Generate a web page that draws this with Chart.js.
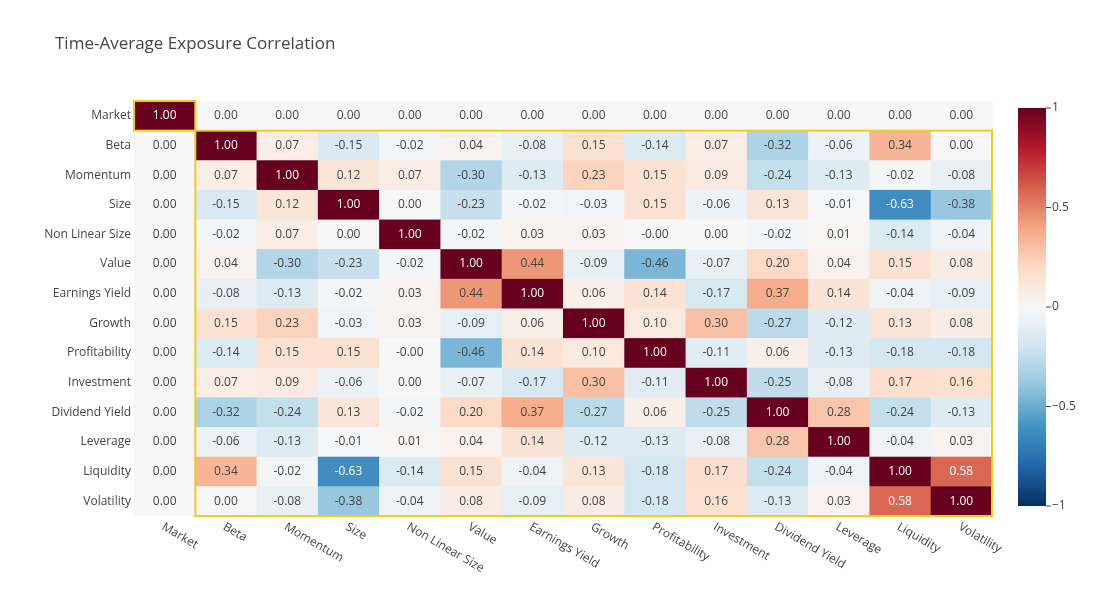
<!DOCTYPE html>
<html>
<head>
<meta charset="utf-8">
<script src="https://cdn.jsdelivr.net/npm/chart.js@4/dist/chart.umd.min.js"></script>
<style>
  html, body { margin: 0; padding: 0; background: #fff; }
  #wrap { width: 1100px; height: 616px; position: relative; }
</style>
</head>
<body>
<div id="wrap"><canvas id="c"></canvas></div>
<script>
const factors = ['Market', 'Beta', 'Momentum', 'Size', 'Non Linear Size', 'Value', 'Earnings Yield',
  'Growth', 'Profitability', 'Investment', 'Dividend Yield', 'Leverage', 'Liquidity', 'Volatility'];

// one row per factor, columns in the same order as factors
const rowMarket   = [1, 0, 0, 0, 0, 0, 0, 0, 0, 0, 0, 0, 0, 0];
const rowBeta     = [0, 1, 0.07, -0.15, -0.02, 0.04, -0.08, 0.15, -0.14, 0.07, -0.32, -0.06, 0.34, 0.00];
const rowMomentum = [0, 0.07, 1, 0.12, 0.07, -0.30, -0.13, 0.23, 0.15, 0.09, -0.24, -0.13, -0.02, -0.08];
const rowSize     = [0, -0.15, 0.12, 1, 0.00, -0.23, -0.02, -0.03, 0.15, -0.06, 0.13, -0.01, -0.63, -0.38];
const rowNLS      = [0, -0.02, 0.07, 0.00, 1, -0.02, 0.03, 0.03, -0.001, 0.00, -0.02, 0.01, -0.14, -0.04];
const rowValue    = [0, 0.04, -0.30, -0.23, -0.02, 1, 0.44, -0.09, -0.46, -0.07, 0.20, 0.04, 0.15, 0.08];
const rowEY       = [0, -0.08, -0.13, -0.02, 0.03, 0.44, 1, 0.06, 0.14, -0.17, 0.37, 0.14, -0.04, -0.09];
const rowGrowth   = [0, 0.15, 0.23, -0.03, 0.03, -0.09, 0.06, 1, 0.10, 0.30, -0.27, -0.12, 0.13, 0.08];
const rowProfit   = [0, -0.14, 0.15, 0.15, -0.001, -0.46, 0.14, 0.10, 1, -0.11, 0.06, -0.13, -0.18, -0.18];
const rowInvest   = [0, 0.07, 0.09, -0.06, 0.00, -0.07, -0.17, 0.30, -0.11, 1, -0.25, -0.08, 0.17, 0.16];
const rowDivYield = [0, -0.32, -0.24, 0.13, -0.02, 0.20, 0.37, -0.27, 0.06, -0.25, 1, 0.28, -0.24, -0.13];
const rowLeverage = [0, -0.06, -0.13, -0.01, 0.01, 0.04, 0.14, -0.12, -0.13, -0.08, 0.28, 1, -0.04, 0.03];
const rowLiquid   = [0, 0.34, -0.02, -0.63, -0.14, 0.15, -0.04, 0.13, -0.18, 0.17, -0.24, -0.04, 1, 0.58];
const rowVol      = [0, 0.00, -0.08, -0.38, -0.04, 0.08, -0.09, 0.08, -0.18, 0.16, -0.13, 0.03, 0.58, 1];
const matrix = [rowMarket, rowBeta, rowMomentum, rowSize, rowNLS, rowValue, rowEY, rowGrowth,
  rowProfit, rowInvest, rowDivYield, rowLeverage, rowLiquid, rowVol];
const barTicks = [1, 0.5, 0, -0.5, -1];

// RdBu, from -1 to 1
const stops = ['#053061', '#2166ac', '#4393c3', '#92c5de', '#d1e5f0', '#f7f7f7',
  '#fddbc7', '#f4a582', '#d6604d', '#b2182b', '#67001f'];
const hex = h => [1, 3, 5].map(i => parseInt(h.substr(i, 2), 16));
function colorFor(v) {
  const t = (Math.max(-1, Math.min(1, v)) + 1) / 2 * (stops.length - 1);
  const i = Math.min(Math.floor(t), stops.length - 2), f = t - i;
  const a = hex(stops[i]), b = hex(stops[i + 1]);
  return 'rgb(' + a.map((x, k) => Math.round(x + (b[k] - x) * f)).join(',') + ')';
}
const fmt = v => (v < 0 ? '-' : '') + Math.abs(v).toFixed(2);

const points = [];
matrix.forEach((row, r) => row.forEach((v, c) => points.push({ x: c, y: r, v })));

const FONT = '"Open Sans", "Noto Sans", sans-serif';

const heatmap = {
  id: 'heatmap',
  beforeDatasetsDraw(chart) {
    const { ctx, scales: { x, y } } = chart;
    const w = x.getPixelForValue(1) - x.getPixelForValue(0);
    const h = y.getPixelForValue(1) - y.getPixelForValue(0);
    ctx.save();
    points.forEach(p => {
      const cx = x.getPixelForValue(p.x), cy = y.getPixelForValue(p.y);
      ctx.fillStyle = colorFor(p.v);
      ctx.fillRect(cx - w / 2, cy - h / 2, w + 0.5, h + 0.5);
      ctx.fillStyle = Math.abs(p.v) > 0.5 ? '#fff' : '#444';
      ctx.font = '12px ' + FONT;
      ctx.textAlign = 'center'; ctx.textBaseline = 'middle';
      ctx.fillText(fmt(p.v), cx, cy);
    });
    // highlight boxes
    ctx.strokeStyle = '#f5cc19'; ctx.lineWidth = 2;
    const x0 = x.getPixelForValue(-0.5), x1 = x.getPixelForValue(0.5), x2 = x.getPixelForValue(13.5);
    const y0 = y.getPixelForValue(-0.5), y1 = y.getPixelForValue(0.5), y2 = y.getPixelForValue(13.5);
    ctx.strokeRect(x0, y0, x1 - x0, y1 - y0);
    ctx.strokeRect(x1, y1, x2 - x1, y2 - y1);
    // axis labels
    ctx.fillStyle = '#444'; ctx.font = '12px ' + FONT;
    factors.forEach((name, i) => {
      ctx.textAlign = 'right'; ctx.textBaseline = 'middle';
      ctx.fillText(name, x0 - 3, y.getPixelForValue(i));
      ctx.save();
      ctx.translate(x.getPixelForValue(i) - 2, y2 + 10);
      ctx.rotate(30 * Math.PI / 180);
      ctx.textAlign = 'left'; ctx.textBaseline = 'middle';
      ctx.fillText(name, 0, 0);
      ctx.restore();
    });
    // title
    ctx.font = '17px ' + FONT; ctx.textAlign = 'left'; ctx.textBaseline = 'middle';
    ctx.fillText('Time-Average Exposure Correlation', 55, 44);
    // colorbar
    const bx = 1018, bw = 28, by0 = 108, by1 = 506;
    const g = ctx.createLinearGradient(0, by1, 0, by0);
    stops.forEach((s, i) => g.addColorStop(i / (stops.length - 1), s));
    ctx.fillStyle = g; ctx.fillRect(bx, by0, bw, by1 - by0);
    ctx.font = '12px ' + FONT; ctx.fillStyle = '#444'; ctx.textAlign = 'left';
    barTicks.forEach(t => {
      const ty = by1 - (t + 1) / 2 * (by1 - by0);
      ctx.strokeStyle = '#444'; ctx.lineWidth = 1;
      ctx.beginPath(); ctx.moveTo(bx + bw, ty); ctx.lineTo(bx + bw + 5, ty); ctx.stroke();
      ctx.fillText(t < 0 ? '\u2212' + Math.abs(t) : String(t), bx + bw + 6, ty);
    });
    ctx.restore();
  }
};

new Chart(document.getElementById('c'), {
  type: 'scatter',
  data: { datasets: [{ data: points, pointRadius: 0, pointHoverRadius: 0 }] },
  options: {
    responsive: true, maintainAspectRatio: false, animation: false,
    layout: { padding: { left: 134, top: 101, right: 108, bottom: 100 } },
    plugins: { legend: { display: false }, tooltip: { enabled: false } },
    scales: {
      x: { type: 'linear', min: -0.5, max: 13.5, display: false },
      y: { type: 'linear', min: -0.5, max: 13.5, reverse: true, display: false }
    }
  },
  plugins: [heatmap]
});
</script>
</body>
</html>
